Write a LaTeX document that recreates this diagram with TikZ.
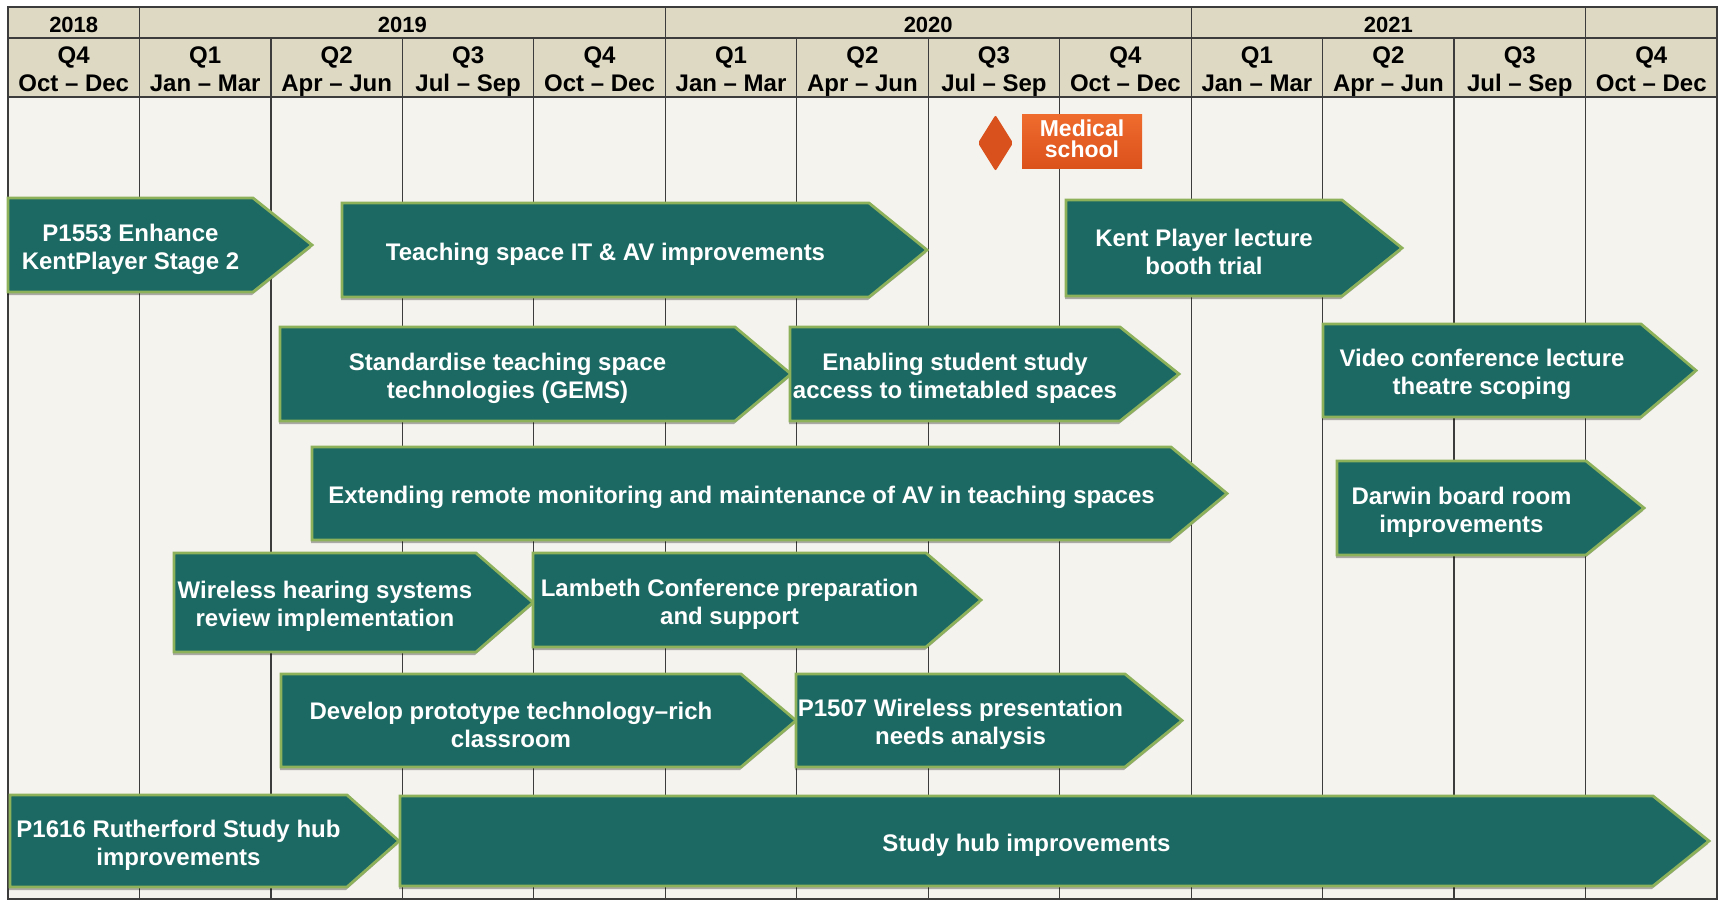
\documentclass[tikz,border=0pt]{standalone}
\usepackage{fontspec}
\setmainfont{Liberation Sans}
\usetikzlibrary{shadows}
\definecolor{hdrtan}{HTML}{DDD9C3}
\definecolor{chartbg}{HTML}{F4F3EE}
\definecolor{gridgray}{HTML}{3C3C3C}
\definecolor{taskteal}{HTML}{1C6963}
\definecolor{taskedge}{HTML}{8DB15A}
\definecolor{medtop}{HTML}{EE6B2D}
\definecolor{medbot}{HTML}{DC521B}
\definecolor{medrhomb}{HTML}{D9511C}
% name, left, shoulder, tip, top, bottom, text
\newcommand\Task[7]{%
  \draw[task] (#2,#5) -- (#3,#5) -- (#4,{(#5+#6)/2}) -- (#3,#6) -- (#2,#6) -- cycle;
  \node[tasktext] (#1) at ({(#2+#3)/2},{(#5+#6)/2+4}) {#7};}

\begin{document}
\begin{tikzpicture}[x=1pt,y=-1pt,
  grid/.style={draw=gridgray,line width=1.2pt},
  task/.style={fill=taskteal,draw=taskedge,line width=2.8pt,
    drop shadow={shadow xshift=-1pt,shadow yshift=-3pt,opacity=0.3,fill=black}},
  tasktext/.style={text=white,font=\bfseries\fontsize{24}{28}\selectfont,align=center,inner sep=0pt},
  hdr/.style={font=\bfseries\fontsize{24}{27}\selectfont,inner sep=0pt,anchor=base},
  yr/.style={font=\bfseries\fontsize{22}{24}\selectfont,inner sep=0pt,anchor=base},
  medbox/.style={top color=medtop,bottom color=medbot,text=white,inner sep=0pt,
    minimum width=120pt,minimum height=54pt,align=center,
    font=\bfseries\fontsize{23}{21}\selectfont}]
  \useasboundingbox[fill=white] (0,0) rectangle (1719,902);
  % chart area and header band
  \fill[chartbg] (8,97) rectangle (1717,899);
  \fill[hdrtan] (8,7) rectangle (1717,97);
  \foreach \k in {1,...,12}
    \draw[grid] ({8+\k*131.46},38) -- ({8+\k*131.46},899);
  \foreach \k in {1,5,9,12}
    \draw[grid] ({8+\k*131.46},7) -- ({8+\k*131.46},38);
  \draw[grid] (8,38) -- (1717,38);
  \draw[grid] (8,97) -- (1717,97);
  \draw[grid] (8,7) rectangle (1717,899);
  % years
  \node[yr] (y2018) at ({8+0.5*131.46},32) {2018};
  \node[yr] (y2019) at ({8+3*131.46},32) {2019};
  \node[yr] (y2020) at ({8+7*131.46},32) {2020};
  \node[yr] (y2021) at ({8+10.5*131.46},32) {2021};
  % quarters
  \foreach \q/\m [count=\k from 0] in {Q4/Oct – Dec,Q1/Jan – Mar,Q2/Apr – Jun,Q3/Jul – Sep,
      Q4/Oct – Dec,Q1/Jan – Mar,Q2/Apr – Jun,Q3/Jul – Sep,Q4/Oct – Dec,
      Q1/Jan – Mar,Q2/Apr – Jun,Q3/Jul – Sep,Q4/Oct – Dec}{
    \node[hdr] (q\k) at ({8+(\k+0.5)*131.46},63) {\q};
    \node[hdr] (m\k) at ({8+(\k+0.5)*131.46},91) {\m};
  }
  % milestone
  \fill[medrhomb,rounded corners=2pt] (995.5,115) -- (1013,143) -- (995.5,171) -- (978,143) -- cycle;
  \node[medbox] (med) at (1082,141) {};
  \node[text=white,align=center,inner sep=0pt,font=\bfseries\fontsize{23}{21}\selectfont]
    (medtxt) at (1082,139) {Medical\\school};
  % projects
  \Task{p1553}{8}{253}{312}{198}{292}{P1553 Enhance\\KentPlayer Stage 2}
  \Task{itav}{342}{869}{927}{203}{297}{Teaching space IT \& AV improvements}
  \Task{booth}{1066}{1342}{1402}{200}{296}{Kent Player lecture\\booth trial}
  \Task{gems}{280}{735}{791}{327}{421}{Standardise teaching space\\technologies (GEMS)}
  \Task{access}{790}{1120}{1179}{327}{421}{Enabling student study\\access to timetabled spaces}
  \Task{vclt}{1323}{1641}{1696}{324}{417}{Video conference lecture\\theatre scoping}
  \Task{remote}{312}{1171}{1227}{447}{540}{Extending remote monitoring and maintenance of AV in teaching spaces}
  \Task{darwin}{1337}{1586}{1644}{461}{555}{Darwin board room\\improvements}
  \Task{hearing}{174}{476}{533}{553}{652}{Wireless hearing systems\\review implementation}
  \Task{lambeth}{533}{926}{981}{553}{647}{Lambeth Conference preparation\\and support}
  \Task{proto}{281}{741}{796}{674}{767}{Develop prototype technology–rich\\classroom}
  \Task{p1507}{796}{1125}{1182}{674}{767}{P1507 Wireless presentation\\needs analysis}
  \Task{p1616}{10}{347}{399}{795}{887}{P1616 Rutherford Study hub\\improvements}
  \Task{hub}{400}{1653}{1709}{796}{886}{Study hub improvements}
\end{tikzpicture}
\end{document}
